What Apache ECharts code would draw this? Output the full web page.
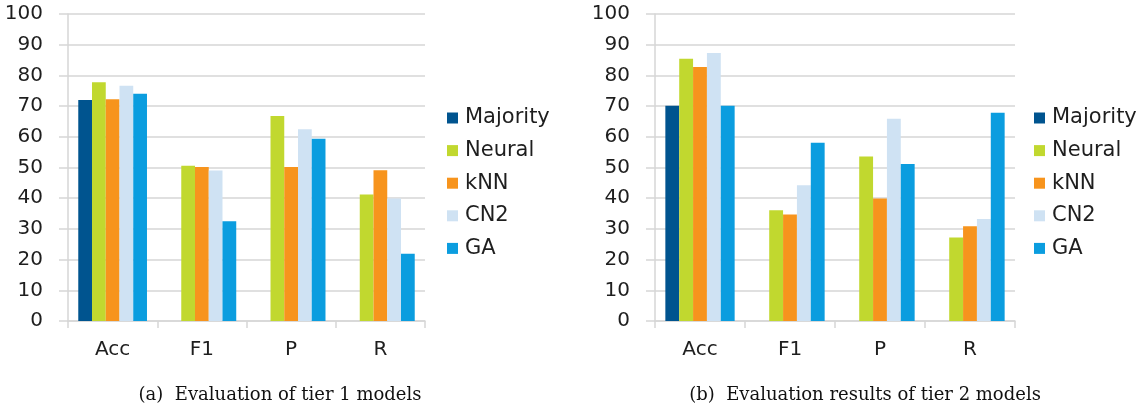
<!DOCTYPE html>
<html>
<head>
<meta charset="utf-8">
<script src="https://cdn.jsdelivr.net/npm/echarts@6/dist/echarts.min.js"></script>
<style>
  html, body { margin: 0; padding: 0; background: #fff; }
  #chart { width: 1144px; height: 408px; }
</style>
</head>
<body>
<div id="chart"></div>
<script>
// Metrics on the category axis
const categories = ['Acc', 'F1', 'P', 'R'];
const seriesNames = ['Majority', 'Neural', 'kNN', 'CN2', 'GA'];
const yTicks = [0, 10, 20, 30, 40, 50, 60, 70, 80, 90, 100];

// Tier 1 models (%)
const tier1Majority = [72, null, null, null];
const tier1Neural   = [77.8, 50.6, 66.8, 41.2];
const tier1kNN      = [72.2, 50.2, 50.2, 49.1];
const tier1CN2      = [76.6, 49.0, 62.5, 39.9];
const tier1GA       = [74.0, 32.5, 59.4, 21.9];

// Tier 2 models (%)
const tier2Majority = [70.1, null, null, null];
const tier2Neural   = [85.4, 36.1, 53.6, 27.2];
const tier2kNN      = [82.7, 34.7, 39.9, 30.9];
const tier2CN2      = [87.3, 44.2, 65.9, 33.2];
const tier2GA       = [70.1, 58.1, 51.1, 67.8];

const captions = ['(a)  Evaluation of tier 1 models', '(b)  Evaluation results of tier 2 models'];

const colors = ['#00548f', '#c1d82f', '#f7941d', '#cfe2f3', '#0b9ddf'];
const sansFont = '"DejaVu Sans", Verdana, sans-serif';
const textColor = '#1e1e1e';
const gridColor = '#d6d6d6';

const panels = [
  { data: [tier1Majority, tier1Neural, tier1kNN, tier1CN2, tier1GA], left: 68, width: 357, legendLeft: 447, captionX: 280 },
  { data: [tier2Majority, tier2Neural, tier2kNN, tier2CN2, tier2GA], left: 655, width: 360, legendLeft: 1034, captionX: 865 }
];

const option = {
  animation: false,
  color: colors,
  title: panels.map((p, i) => ({
    text: captions[i],
    left: p.captionX,
    top: 386,
    padding: 0,
    textAlign: 'center',
    textStyle: { fontFamily: '"DejaVu Serif", serif', fontSize: 18, fontWeight: 'normal', color: '#111' }
  })),
  legend: panels.map((p) => ({
    orient: 'vertical',
    left: p.legendLeft,
    top: 107.5,
    padding: 0,
    data: seriesNames,
    itemWidth: 11,
    itemHeight: 11,
    itemGap: 11.6,
    icon: 'rect',
    textStyle: { fontFamily: sansFont, fontSize: 21, color: textColor, lineHeight: 21, padding: [0, 0, 0, 2] }
  })),
  grid: panels.map((p) => ({ left: p.left, width: p.width, top: 14, bottom: 87, containLabel: false })),
  xAxis: panels.map((p, i) => ({
    type: 'category',
    gridIndex: i,
    data: categories,
    axisLine: { lineStyle: { color: gridColor, width: 1.5 } },
    axisTick: { show: true, length: 7, lineStyle: { color: gridColor, width: 1.5 } },
    axisLabel: { fontFamily: sansFont, fontSize: 20, color: textColor, margin: 19 }
  })),
  yAxis: panels.map((p, i) => ({
    type: 'value',
    gridIndex: i,
    min: yTicks[0],
    max: yTicks[yTicks.length - 1],
    interval: yTicks[1] - yTicks[0],
    axisLine: { show: true, lineStyle: { color: gridColor, width: 1.5 } },
    axisTick: { show: true, length: 9, lineStyle: { color: gridColor, width: 1.5 } },
    splitLine: { lineStyle: { color: gridColor, width: 1.5 } },
    axisLabel: { fontFamily: sansFont, fontSize: 20, color: textColor, margin: 25 }
  })),
  series: []
};

panels.forEach((p, i) => {
  p.data.forEach((values, k) => {
    option.series.push({
      name: seriesNames[k],
      type: 'bar',
      xAxisIndex: i,
      yAxisIndex: i,
      data: values,
      barGap: '0%',
      barCategoryGap: '23%',
      itemStyle: { color: colors[k] }
    });
  });
});

const chart = echarts.init(document.getElementById('chart'), null, { renderer: 'canvas' });
chart.setOption(option);
</script>
</body>
</html>
